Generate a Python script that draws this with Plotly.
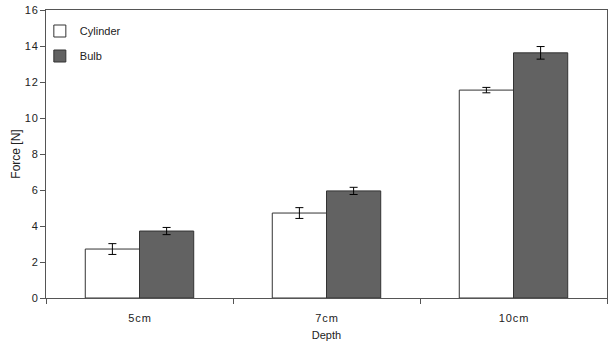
import plotly.graph_objects as go

categories = ["5cm", "7cm", "10cm"]
cylinder = [2.72, 4.72, 11.55]
cylinder_err = [0.3, 0.3, 0.15]
bulb = [3.72, 5.95, 13.62]
bulb_err = [0.2, 0.2, 0.35]
yticks = [0, 2, 4, 6, 8, 10, 12, 14, 16]

HS = "\u200a"
def spaced(s):
    return HS.join(list(s))

fig = go.Figure()
fig.add_trace(go.Bar(
    name="Cylinder", x=categories, y=cylinder, legend="legend",
    marker=dict(color="white", line=dict(color="#333333", width=1)),
    error_y=dict(type="data", array=cylinder_err, color="black", thickness=1, width=4),
))
fig.add_trace(go.Bar(
    name="Bulb", x=categories, y=bulb, legend="legend2",
    marker=dict(color="#626262", line=dict(color="#333333", width=1)),
    error_y=dict(type="data", array=bulb_err, color="black", thickness=1, width=4),
))

leg_common = dict(xanchor="left", yanchor="middle", bgcolor="rgba(0,0,0,0)",
                  font=dict(size=11), itemwidth=30, xref="paper", yref="paper")
fig.update_layout(
    width=613, height=344,
    margin=dict(l=46, r=6, t=10, b=46),
    paper_bgcolor="white", plot_bgcolor="white",
    barmode="group", bargap=0.42, bargroupgap=0,
    font=dict(family="Liberation Sans, Arial, sans-serif", size=11, color="#222222"),
    showlegend=True,
    legend=dict(x=-0.011, y=(298 - 31) / 288, **leg_common),
    legend2=dict(x=-0.011, y=(298 - 56) / 288, **leg_common),
)
fig.update_xaxes(
    type="category", showline=True, mirror=True, linecolor="#555555", linewidth=1,
    ticks="outside", tickson="boundaries", ticklen=5, tickcolor="#555555",
    showgrid=False, tickmode="array", tickvals=categories, automargin=False,
    ticktext=[spaced(c) for c in categories], ticklabelstandoff=10,
    title=dict(text="Depth", font=dict(size=11), standoff=8),
    tickfont=dict(size=11),
)
fig.update_yaxes(
    range=[0, 16], tickmode="array", tickvals=yticks, automargin=False,
    ticktext=[spaced(str(v)) for v in yticks],
    showline=True, mirror=True, linecolor="#555555", linewidth=1,
    ticks="outside", ticklen=5, tickcolor="#555555", showgrid=False, zeroline=False,
    title=dict(text="Force [N]", font=dict(size=12), standoff=1),
    tickfont=dict(size=11),
)

fig.write_html("out.html")
